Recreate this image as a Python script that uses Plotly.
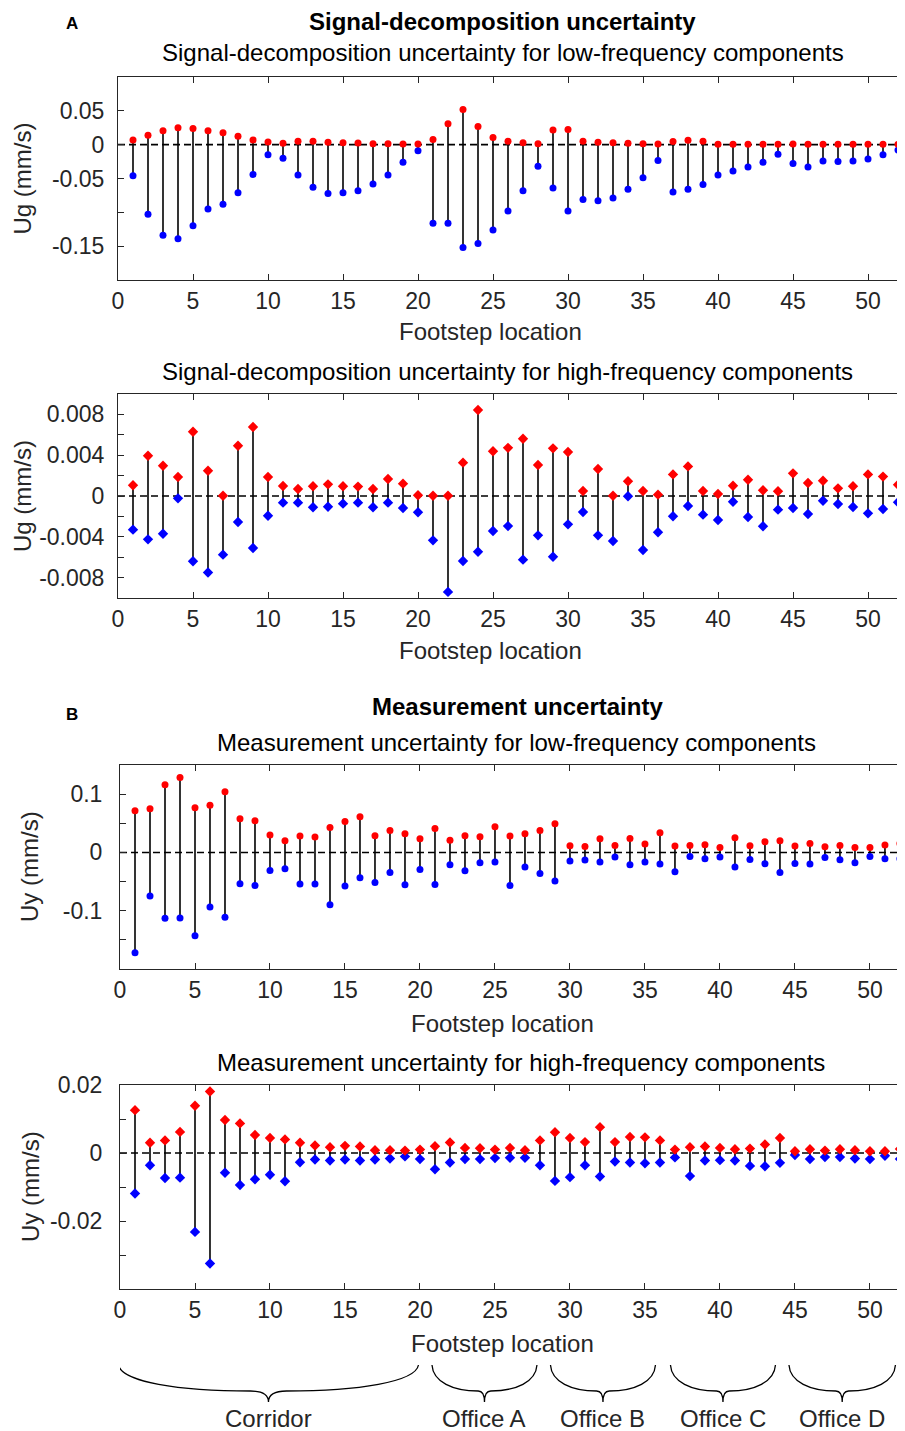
import plotly.graph_objects as go

steps = list(range(1, 53))

ug_low_upper = [0.007, 0.014, 0.0205, 0.025, 0.024, 0.0205, 0.0175, 0.0125, 0.007, 0.004,
                0.002, 0.005, 0.005, 0.0035, 0.003, 0.0025, 0.0015, 0.0015, 0.001, 0.001,
                0.0075, 0.031, 0.052, 0.027, 0.0105, 0.005, 0.003, 0.0015, 0.0215, 0.0225,
                0.005, 0.0035, 0.003, 0.002, 0.0015, 0.001, 0.0045, 0.0065, 0.005, 0.0005,
                0.0005, 0.0005, 0.0005, 0.0005, 0.001, 0.0005, 0.0005, 0.0005, 0.0005, 0.0005,
                0.0005, 0.0005]
ug_low_lower = [-0.046, -0.103, -0.134, -0.139, -0.120, -0.095, -0.088, -0.071, -0.044, -0.015,
                -0.020, -0.045, -0.063, -0.072, -0.071, -0.068, -0.058, -0.045, -0.026, -0.009,
                -0.116, -0.116, -0.152, -0.146, -0.126, -0.098, -0.068, -0.032, -0.064, -0.098,
                -0.081, -0.083, -0.079, -0.066, -0.049, -0.0235, -0.070, -0.066, -0.059, -0.045,
                -0.039, -0.033, -0.026, -0.014, -0.028, -0.033, -0.024, -0.025, -0.024, -0.021,
                -0.015, -0.008]

ug_high_upper = [0.00105, 0.00395, 0.00297, 0.00186, 0.0063, 0.00248, 0.00003, 0.00493, 0.00676, 0.00186,
                 0.00098, 0.00069, 0.00095, 0.00114, 0.00095, 0.00092, 0.00069, 0.00167, 0.00121, 0.00007,
                 0.00003, 0.00003, 0.00327, 0.00843, 0.00438, 0.00472, 0.00562, 0.00304, 0.00467, 0.00431,
                 0.00049, 0.00265, 0.00003, 0.00144, 0.00049, 0.00013, 0.00212, 0.0029, 0.00049, 0.0002,
                 0.00101, 0.0016, 0.00056, 0.00046, 0.00222, 0.00127, 0.0015, 0.00075, 0.00095, 0.00212,
                 0.0019, 0.00111]
ug_high_lower = [-0.0033, -0.00425, -0.0037, -0.00023, -0.0064, -0.0075, -0.00575, -0.00255, -0.0051, -0.00193,
                 -0.00065, -0.00065, -0.00111, -0.00105, -0.00075, -0.00065, -0.00111, -0.00065, -0.00118, -0.0016,
                 -0.00435, -0.0094, -0.00637, -0.00546, -0.00343, -0.00295, -0.00624, -0.00386, -0.00595, -0.00278,
                 -0.00157, -0.00386, -0.00441, -0.00003, -0.0053, -0.00356, -0.00199, -0.00098, -0.00183, -0.00235,
                 -0.00056, -0.00206, -0.00297, -0.00134, -0.00118, -0.00176, -0.00046, -0.00078, -0.00108, -0.0017,
                 -0.00127, -0.00062]

uy_low_upper = [0.0714, 0.0749, 0.116, 0.1286, 0.0766, 0.0811, 0.104, 0.0577, 0.0543, 0.0297,
                0.020, 0.028, 0.0263, 0.0429, 0.0531, 0.0611, 0.0286, 0.0377, 0.032, 0.0234,
                0.0411, 0.0211, 0.0286, 0.0269, 0.044, 0.028, 0.032, 0.0377, 0.049, 0.0114,
                0.0103, 0.0234, 0.012, 0.024, 0.0143, 0.0337, 0.0109, 0.012, 0.0131, 0.0086,
                0.0251, 0.0114, 0.0183, 0.020, 0.0109, 0.0154, 0.0097, 0.012, 0.0086, 0.0086,
                0.0126, 0.0154]
uy_low_lower = [-0.172, -0.0749, -0.113, -0.1126, -0.1429, -0.0937, -0.111, -0.0537, -0.0566, -0.0309,
                -0.028, -0.0543, -0.0543, -0.0897, -0.0577, -0.0434, -0.0514, -0.0343, -0.0554, -0.0291,
                -0.0549, -0.0211, -0.0314, -0.0177, -0.0166, -0.0566, -0.0251, -0.036, -0.049, -0.0149,
                -0.0131, -0.0166, -0.008, -0.0211, -0.0166, -0.020, -0.0331, -0.0069, -0.0109, -0.008,
                -0.0251, -0.012, -0.0194, -0.0343, -0.0189, -0.020, -0.0086, -0.0126, -0.0177, -0.0069,
                -0.0109, -0.0109]

uy_high_upper = [0.0126, 0.0030, 0.0037, 0.0062, 0.0139, 0.0181, 0.0097, 0.0087, 0.0053, 0.0044,
                 0.0040, 0.0030, 0.0022, 0.0017, 0.0021, 0.0019, 0.0008, 0.0008, 0.0007, 0.0010,
                 0.0020, 0.0031, 0.0015, 0.0014, 0.0010, 0.0015, 0.0008, 0.0037, 0.0061, 0.0044,
                 0.0032, 0.0076, 0.0032, 0.0047, 0.0046, 0.0037, 0.0010, 0.0017, 0.0019, 0.0015,
                 0.0011, 0.0013, 0.0025, 0.0044, 0.0005, 0.0011, 0.0007, 0.0011, 0.0008, 0.0005,
                 0.0005, 0.0012]
uy_high_lower = [-0.0119, -0.0036, -0.00735, -0.00725, -0.0232, -0.0325, -0.0058, -0.0094, -0.0077, -0.0064,
                 -0.0083, -0.0027, -0.0019, -0.0022, -0.0019, -0.0022, -0.0019, -0.0016, -0.0010, -0.0018,
                 -0.0048, -0.0028, -0.0018, -0.0018, -0.0015, -0.0014, -0.0014, -0.0036, -0.0082, -0.0071,
                 -0.0036, -0.0069, -0.0025, -0.0028, -0.0030, -0.0028, -0.0013, -0.0068, -0.0022, -0.0021,
                 -0.0022, -0.0038, -0.0039, -0.0029, -0.0006, -0.0018, -0.0012, -0.0012, -0.0016, -0.0018,
                 -0.0008, -0.0018]

x_ticks = [0, 5, 10, 15, 20, 25, 30, 35, 40, 45, 50]

region_names = ["Corridor", "Office A", "Office B", "Office C", "Office D"]
region_start = [-0.1, 20.8, 28.7, 36.7, 44.6]
region_end = [19.9, 27.8, 35.7, 43.7, 51.7]

# the page body adds an 8 px offset, so the figure is 8 px smaller and positions are shifted
OFF = 8
W, H = 905 - OFF, 1431 - OFF
FONT = "Liberation Sans, Arial, Helvetica, sans-serif"
AX = "#262626"
TICK_SIZE = 23
LABEL_SIZE = 24


def px(p):
    return (p - OFF) / W


def py(p):
    return 1 - (p - OFF) / H


panels = [
    dict(up=ug_low_upper, lo=ug_low_lower, sym="circle", left=118, top=77, bottom=280, xmax=52.4,
         yr=[-0.2, 0.1], tv=[-0.15, -0.1, -0.05, 0, 0.05], tt=["-0.15", "", "-0.05", "0", "0.05"],
         title="Signal-decomposition uncertainty for low-frequency components", tx=503, ty=53,
         xl_x=490, xl_y=331, yl="Ug (mm/s)", yl_x=22, so=8),
    dict(up=ug_high_upper, lo=ug_high_lower, sym="diamond", left=118, top=394, bottom=598, xmax=52.4,
         yr=[-0.01, 0.01], tv=[-0.008, -0.006, -0.004, -0.002, 0, 0.002, 0.004, 0.006, 0.008],
         tt=["-0.008", "", "-0.004", "", "0", "", "0.004", "", "0.008"],
         title="Signal-decomposition uncertainty for high-frequency components", tx=507, ty=371,
         xl_x=490, xl_y=650, yl="Ug (mm/s)", yl_x=22, so=8),
    dict(up=uy_low_upper, lo=uy_low_lower, sym="circle", left=120, top=765, bottom=969, xmax=52.27,
         yr=[-0.2, 0.15], tv=[-0.15, -0.1, -0.05, 0, 0.05, 0.1], tt=["", "-0.1", "", "0", "", "0.1"],
         title="Measurement uncertainty for low-frequency components", tx=516, ty=742,
         xl_x=502, xl_y=1023, yl="Uy (mm/s)", yl_x=30, so=12),
    dict(up=uy_high_upper, lo=uy_high_lower, sym="diamond", left=120, top=1085, bottom=1289, xmax=52.27,
         yr=[-0.04, 0.02], tv=[-0.03, -0.02, -0.01, 0, 0.01, 0.02], tt=["", "-0.02", "", "0", "", "0.02"],
         title="Measurement uncertainty for high-frequency components", tx=521, ty=1062,
         xl_x=502, xl_y=1343, yl="Uy (mm/s)", yl_x=30, so=12),
]

fig = go.Figure()
annotations = []
shapes = []
RIGHT = 905

for i, p in enumerate(panels, start=1):
    xa = "x" if i == 1 else f"x{i}"
    ya = "y" if i == 1 else f"y{i}"
    sx, sy = [], []
    for s, u, l in zip(steps, p["up"], p["lo"]):
        sx += [s, s, None]
        sy += [l, u, None]
    fig.add_trace(go.Scatter(x=sx, y=sy, mode="lines", line=dict(color="black", width=1.6),
                             xaxis=xa, yaxis=ya, showlegend=False, hoverinfo="skip"))
    msize = 7 if p["sym"] == "circle" else 8
    fig.add_trace(go.Scatter(x=steps, y=p["lo"], mode="markers",
                             marker=dict(color="#0000ff", size=msize, symbol=p["sym"], line=dict(width=0)),
                             xaxis=xa, yaxis=ya, showlegend=False))
    fig.add_trace(go.Scatter(x=steps, y=p["up"], mode="markers",
                             marker=dict(color="#ff0000", size=msize, symbol=p["sym"], line=dict(width=0)),
                             xaxis=xa, yaxis=ya, showlegend=False))

    xkey = "xaxis" if i == 1 else f"xaxis{i}"
    ykey = "yaxis" if i == 1 else f"yaxis{i}"
    xmax = p["xmax"] * (RIGHT - p["left"]) / (904 - p["left"])
    fig.layout[xkey] = dict(
        domain=[px(p["left"]), px(RIGHT)], range=[0, xmax], anchor=ya, automargin=False,
        tickvals=x_ticks, ticktext=[str(v) for v in x_ticks], ticks="inside", ticklen=6,
        tickcolor=AX, showline=True, linecolor=AX, linewidth=1, mirror="ticks",
        showgrid=False, zeroline=False, tickfont=dict(family=FONT, size=TICK_SIZE, color=AX),
    )
    fig.layout[ykey] = dict(
        domain=[py(p["bottom"]), py(p["top"])], range=p["yr"], anchor=xa, automargin=False,
        tickvals=p["tv"], ticktext=p["tt"], ticks="inside", ticklen=6,
        tickcolor=AX, showline=True, linecolor=AX, linewidth=1, mirror="ticks",
        showgrid=False, zeroline=False, tickfont=dict(family=FONT, size=TICK_SIZE, color=AX),
        ticklabelstandoff=p["so"],
    )
    shapes.append(dict(type="line", xref=f"{xa} domain", yref=ya, x0=0, x1=1, y0=0, y1=0,
                       line=dict(color="black", width=1.6, dash="7px,4px"), layer="below"))
    annotations.append(dict(text=p["title"], x=px(p["tx"]), y=py(p["ty"]), xref="paper", yref="paper",
                            showarrow=False, xanchor="center", yanchor="middle",
                            font=dict(family=FONT, size=LABEL_SIZE, color="black")))
    annotations.append(dict(text="Footstep location", x=px(p["xl_x"]), y=py(p["xl_y"]), xref="paper",
                            yref="paper", showarrow=False, xanchor="center", yanchor="middle",
                            font=dict(family=FONT, size=LABEL_SIZE, color=AX)))
    annotations.append(dict(text=p["yl"], x=px(p["yl_x"]), y=(py(p["top"]) + py(p["bottom"])) / 2,
                            xref="paper", yref="paper", showarrow=False, textangle=-90,
                            xanchor="center", yanchor="middle",
                            font=dict(family=FONT, size=LABEL_SIZE, color=AX)))

# section headings
for txt, x, y in [("Signal-decomposition uncertainty", 502, 22), ("Measurement uncertainty", 517, 706)]:
    annotations.append(dict(text=f"<b>{txt}</b>", x=px(x), y=py(y), xref="paper", yref="paper",
                            showarrow=False, xanchor="center", yanchor="middle",
                            font=dict(family=FONT, size=LABEL_SIZE, color="black")))
for txt, y in [("A", 23), ("B", 714)]:
    annotations.append(dict(text=f"<b>{txt}</b>", x=px(72), y=py(y), xref="paper", yref="paper",
                            showarrow=False, xanchor="center", yanchor="middle",
                            font=dict(family=FONT, size=17, color="black")))

# room braces below the last panel
ytop, ybot, ytip = py(1365), py(1391), py(1402)
for name, a, b in zip(region_names, region_start, region_end):
    w = b - a
    m = (a + b) / 2
    path = (f"M {a},{ytop} C {a + 0.01 * w},{ybot + 0.35 * (ytop - ybot)} {a + 0.2 * w},{ybot} {m - 0.06 * w},{ybot} "
            f"Q {m},{ybot} {m},{ytip} "
            f"Q {m},{ybot} {m + 0.06 * w},{ybot} "
            f"C {b - 0.2 * w},{ybot} {b - 0.01 * w},{ybot + 0.35 * (ytop - ybot)} {b},{ytop}")
    shapes.append(dict(type="path", path=path, xref="x4", yref="paper",
                       line=dict(color="black", width=1.3)))
    annotations.append(dict(text=name, x=m, y=py(1418), xref="x4", yref="paper", showarrow=False,
                            xanchor="center", yanchor="middle",
                            font=dict(family=FONT, size=LABEL_SIZE, color=AX)))

fig.update_layout(
    width=W, height=H, margin=dict(l=0, r=0, t=0, b=0, autoexpand=False),
    paper_bgcolor="white", plot_bgcolor="white",
    shapes=shapes, annotations=annotations, showlegend=False,
)

fig.write_html("out.html")
